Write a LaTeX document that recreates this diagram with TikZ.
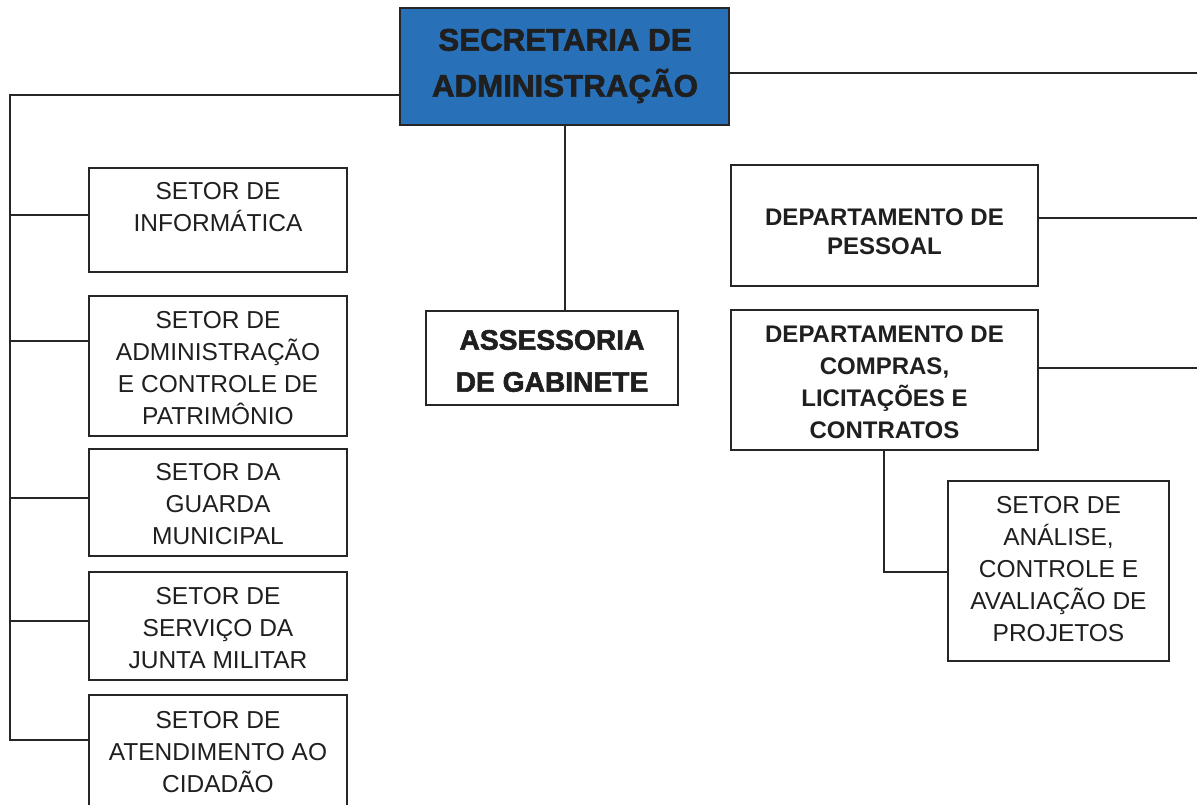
\documentclass[tikz,border=0pt]{standalone}
\usepackage{fontspec}
\setmainfont{Liberation Sans}
\newfontfamily\heavyfont[FakeBold=2]{Liberation Sans Bold}
\begin{document}
\begin{tikzpicture}[x=1pt,y=-1pt,
  box/.style={draw=black!85,line width=1.3pt,fill=white,inner sep=0pt},
  txt/.style={inner sep=0pt,align=center,text=black!88},
  setor/.style={txt,font=\fontsize{24.5}{32}\selectfont},
  dept/.style={txt,font=\bfseries\fontsize{24}{32}\selectfont},
  conn/.style={draw=black!85,line width=1.3pt}]
\useasboundingbox (0,0) rectangle (1197,805);
\definecolor{secblue}{RGB}{40,112,184}
% boxes
\node[box,fill=secblue,minimum width=329pt,minimum height=117pt] (sec) at (564.5,66.5) {};
\node[box,minimum width=258pt,minimum height=104pt] (inf) at (218,220) {};
\node[box,minimum width=258pt,minimum height=140pt] (pat) at (218,366) {};
\node[box,minimum width=258pt,minimum height=107pt] (gua) at (218,502.5) {};
\node[box,minimum width=258pt,minimum height=108pt] (jun) at (218,626) {};
\node[box,minimum width=258pt,minimum height=122pt] (ate) at (218,756) {};
\node[box,minimum width=252pt,minimum height=94pt] (ass) at (552,358) {};
\node[box,minimum width=307pt,minimum height=121pt] (pes) at (884.5,225.5) {};
\node[box,minimum width=307pt,minimum height=140pt] (com) at (884.5,380) {};
\node[box,minimum width=221pt,minimum height=180pt] (ana) at (1058.5,571) {};
% texts
\node[txt,font=\heavyfont\fontsize{31.3}{46}\selectfont] (secT) at (565,66) {SECRETARIA DE\\ADMINISTRAÇÃO};
\node[setor] (infT) at (218,207) {SETOR DE\\INFORMÁTICA};
\node[setor] (patT) at (218,368) {SETOR DE\\ADMINISTRAÇÃO\\E CONTROLE DE\\PATRIMÔNIO};
\node[setor] (guaT) at (218,504) {SETOR DA\\GUARDA\\MUNICIPAL};
\node[setor] (junT) at (218,628) {SETOR DE\\SERVIÇO DA\\JUNTA MILITAR};
\node[setor] (ateT) at (218,752) {SETOR DE\\ATENDIMENTO AO\\CIDADÃO};
\node[txt,font=\heavyfont\fontsize{28.2}{42}\selectfont] (assT) at (552,361) {ASSESSORIA\\DE GABINETE};
\node[dept,font=\bfseries\fontsize{24}{29}\selectfont] (pesT) at (884.5,231.5) {DEPARTAMENTO DE\\PESSOAL};
\node[dept] (comT) at (884.5,382) {DEPARTAMENTO DE\\COMPRAS,\\LICITAÇÕES E\\CONTRATOS};
\node[setor] (anaT) at (1058.5,569) {SETOR DE\\ANÁLISE,\\CONTROLE E\\AVALIAÇÃO DE\\PROJETOS};
% coordinates
\coordinate (lt) at (10,95);
\coordinate (rt) at (1197,73);
\coordinate (rp) at (1197,218);
\coordinate (rc) at (1197,368);
% connectors
\path[conn] (sec.west |- lt) -- (lt) -- (10,740) -- (ate.west |- 0,740);
\path[conn] (10,215) -- (inf.west |- 0,215);
\path[conn] (10,341) -- (pat.west |- 0,341);
\path[conn] (10,498) -- (gua.west |- 0,498);
\path[conn] (10,621) -- (jun.west |- 0,621);
\path[conn] (sec.east |- rt) -- (rt);
\path[conn] (sec.south -| 565,0) -- (ass.north -| 565,0);
\path[conn] (pes.east |- rp) -- (rp);
\path[conn] (com.east |- rc) -- (rc);
\path[conn] (com.south -| 884,0) -- (884,572) -- (ana.west |- 0,572);
\end{tikzpicture}
\end{document}
